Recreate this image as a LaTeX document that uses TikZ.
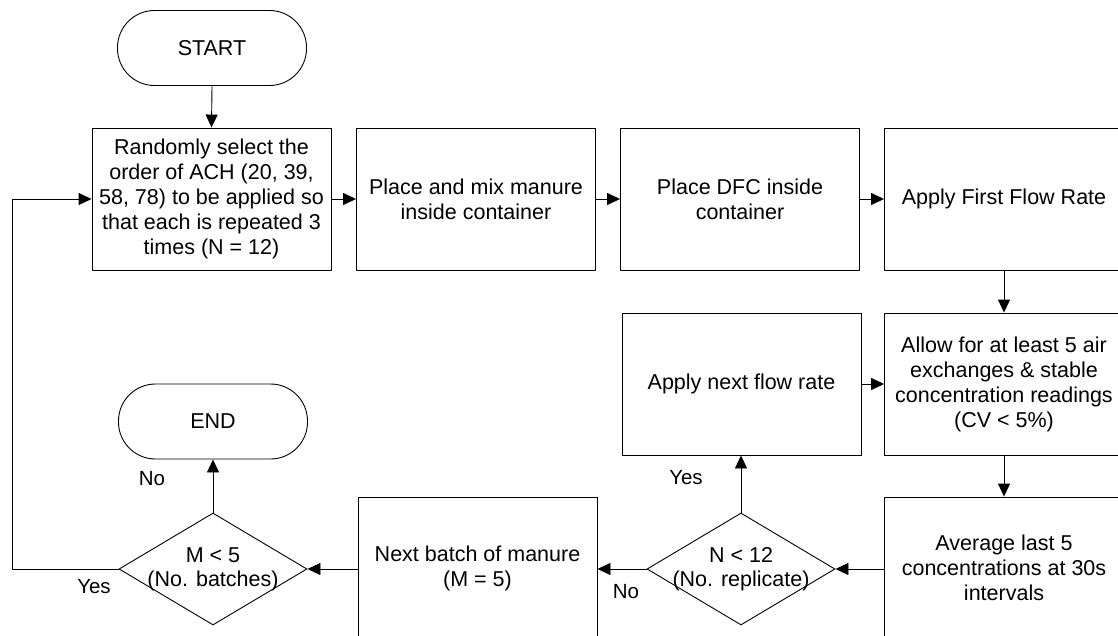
\documentclass[tikz,border=0pt]{standalone}
\usepackage{fontspec}
\setmainfont{Liberation Sans}
\usetikzlibrary{arrows.meta,shapes.geometric}
\begin{document}
\begin{tikzpicture}[x=1pt,y=-1pt,
  line width=0.9pt,
  proc/.style={draw, rectangle, minimum width=239pt, minimum height=142pt, inner sep=0pt, align=center, font=\fontsize{21.5}{25}\selectfont},
  term/.style={draw, rectangle, rounded corners=37pt, minimum width=189pt, minimum height=75pt, inner sep=0pt, font=\fontsize{21.5}{25}\selectfont},
  dec/.style={draw, diamond, minimum width=188pt, minimum height=112pt, inner sep=0pt},
  dectext/.style={align=center, font=\fontsize{21.5}{24}\selectfont, inner sep=0pt},
  lbl/.style={font=\fontsize{20.5}{24}\selectfont, inner sep=0pt},
  arr/.style={-{Triangle[length=13pt,width=12pt]}},
]
\useasboundingbox (0,0) rectangle (1118,636);
\clip (0,0) rectangle (1118,636);

\node[term] (start) at (212,48) {START};
\node[proc] (box1) at (211.5,199) {Randomly select the\\order of ACH (20, 39,\\58, 78) to be applied so\\that each is repeated 3\\times (N = 12)};
\node[proc] (box2) at (476,199) {Place and mix manure\\inside container};
\node[proc] (box3) at (740,199) {Place DFC inside\\container};
\node[proc] (box4) at (1004,199) {Apply First Flow Rate};
\node[proc] (allow) at (1004,384) {Allow for at least 5 air\\exchanges \& stable\\concentration readings\\(CV < 5\%)};
\node[proc] (applynext) at (741.5,384) {Apply next flow rate};
\node[proc] (average) at (1004,568) {Average last 5\\concentrations at 30s\\intervals};
\node[dec] (d1) at (741,569) {};
\node[dectext] (d1t) at (741,569) {N < 12\\(No. replicate)};
\node[proc] (nextb) at (477.5,568) {Next batch of manure\\(M = 5)};
\node[dec] (d2) at (213,569) {};
\node[dectext] (d2t) at (213,569) {M < 5\\(No. batches)};
\node[term] (end) at (213,421.5) {END};
\coordinate (loop) at (12,569);

\draw[arr] (start.south) -- (box1.north);
\draw[arr] (box1.east) -- (box2.west);
\draw[arr] (box2.east) -- (box3.west);
\draw[arr] (box3.east) -- (box4.west);
\draw[arr] (box4.south) -- (allow.north);
\draw[arr] (allow.south) -- (average.north);
\draw[arr] (average.west |- d1.east) -- (d1.east);
\draw[arr] (d1.west) -- (nextb.east |- d1.west);
\draw[arr] (d1.north) -- (applynext.south -| d1.north);
\draw[arr] (applynext.east) -- (allow.west);
\draw[arr] (nextb.west |- d2.east) -- (d2.east);
\draw[arr] (d2.north) -- (end.south);
\draw[arr] (d2.west) -- (loop) |- (box1.west);

\node[lbl] (l1) at (152,479) {No};
\node[lbl] (l2) at (94,587) {Yes};
\node[lbl] (l3) at (686,478) {Yes};
\node[lbl] (l4) at (626,592) {No};
\end{tikzpicture}
\end{document}
